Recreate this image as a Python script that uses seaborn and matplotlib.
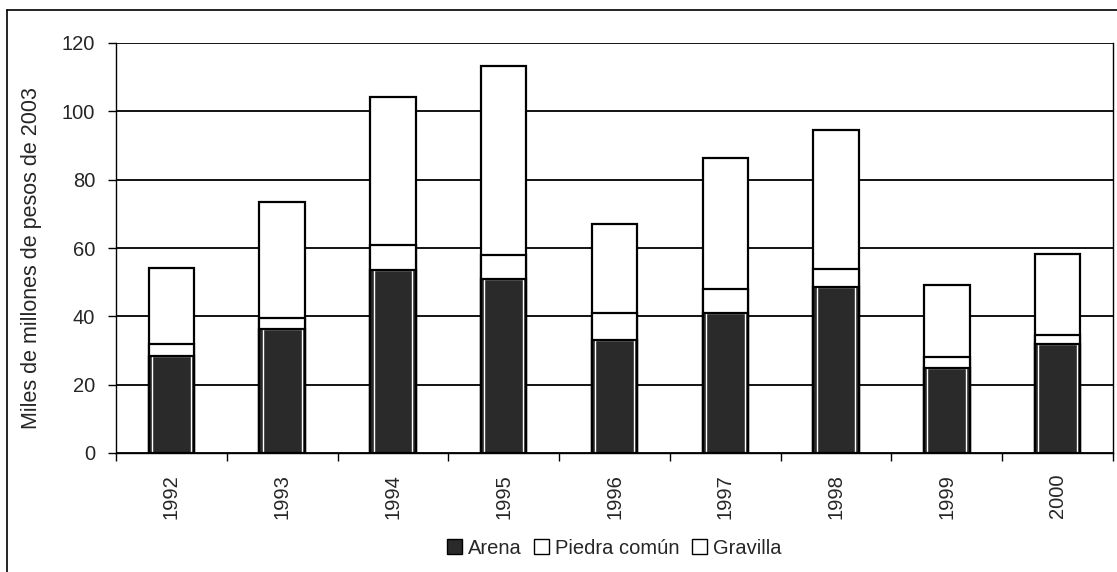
import matplotlib
matplotlib.use("Agg")
import matplotlib.pyplot as plt
import seaborn as sns
import pandas as pd
import numpy as np
from matplotlib.patches import Patch
from matplotlib.lines import Line2D
from matplotlib.ticker import FixedLocator

years = ["1992", "1993", "1994", "1995", "1996", "1997", "1998", "1999", "2000"]
arena = [28.5, 36.4, 53.5, 50.9, 33.2, 40.9, 48.5, 24.9, 31.9]
piedra = [3.5, 3.1, 7.5, 7.0, 7.8, 7.1, 5.3, 3.1, 2.5]
gravilla = [22.1, 33.9, 43.1, 55.3, 26.0, 38.4, 40.7, 21.1, 23.8]
series_names = ["Arena", "Piedra común", "Gravilla"]
y_ticks = [0, 20, 40, 60, 80, 100, 120]
ylabel = "Miles de millones de pesos de 2003"

sns.set_theme(style="white")
plt.rcParams["font.family"] = ["Liberation Sans", "DejaVu Sans"]

df = pd.DataFrame({"year": years, "arena": arena, "piedra": piedra, "gravilla": gravilla})
df["lvl1"] = df["arena"]
df["lvl2"] = df["arena"] + df["piedra"]
df["lvl3"] = df["lvl2"] + df["gravilla"]

fig = plt.figure(figsize=(11.17, 5.72), dpi=100)
ax = fig.add_axes([116 / 1117, 1 - 453 / 572, (1113 - 116) / 1117, (453 - 43) / 572])

arena_color = "#2a2a2a"
bw = 0.41
# totals and Piedra común (white), drawn back to front
for col in ["lvl3", "lvl2"]:
    sns.barplot(data=df, x="year", y=col, ax=ax, color="white", width=bw,
                edgecolor="black", linewidth=1.6, saturation=1)
# Arena: dark fill, thin inner white frame, black outline
sns.barplot(data=df, x="year", y="lvl1", ax=ax, color=arena_color, width=bw,
            edgecolor="none", linewidth=0, saturation=1)
sns.barplot(data=df, x="year", y="lvl1", ax=ax, fill=False, width=bw - 0.06,
            edgecolor="white", linewidth=1.0, saturation=1)
sns.barplot(data=df, x="year", y="lvl1", ax=ax, fill=False, width=bw,
            edgecolor="black", linewidth=1.6, saturation=1)

ax.set_ylim(0, 120)
ax.set_xlim(-0.5, len(years) - 0.5)
ax.set_yticks(y_ticks)
ax.yaxis.grid(True, color="black", linewidth=1.3)
ax.set_axisbelow(True)
for s in ["left", "right", "bottom"]:
    ax.spines[s].set_visible(True)
    ax.spines[s].set_color("black")
    ax.spines[s].set_linewidth(1.0)
ax.spines["top"].set_visible(False)

ax.tick_params(axis="y", length=6, width=1, color="black", left=True, pad=9, labelsize=14.5)
ax.tick_params(axis="x", which="major", length=0, pad=15, labelsize=14.5, rotation=90)
ax.xaxis.set_minor_locator(FixedLocator(np.arange(-0.5, len(years), 1.0)))
ax.tick_params(axis="x", which="minor", length=6, width=1, color="black", bottom=True)
ax.set_xlabel("")
ax.set_ylabel(ylabel, fontsize=15.5)
ax.yaxis.set_label_coords(-0.074, 0.476)

handles = [
    Patch(facecolor=arena_color, edgecolor="black", linewidth=1, label=series_names[0]),
    Patch(facecolor="white", edgecolor="black", linewidth=1, label=series_names[1]),
    Patch(facecolor="white", edgecolor="black", linewidth=1, label=series_names[2]),
]
fig.legend(handles=handles, loc="center", bbox_to_anchor=(614 / 1117, 1 - 548 / 572),
           ncol=3, frameon=False, fontsize=14.5, handlelength=0.75, handleheight=0.75,
           handletextpad=0.3, columnspacing=0.6)

# outer frame (top and left)
fig.add_artist(Line2D([7 / 1117, 1.0], [1 - 10 / 572, 1 - 10 / 572], color="black", linewidth=1.2,
                      transform=fig.transFigure))
fig.add_artist(Line2D([7 / 1117, 7 / 1117], [0.0, 1 - 10 / 572], color="black", linewidth=1.2,
                      transform=fig.transFigure))

fig.savefig("out.png", dpi=100)
